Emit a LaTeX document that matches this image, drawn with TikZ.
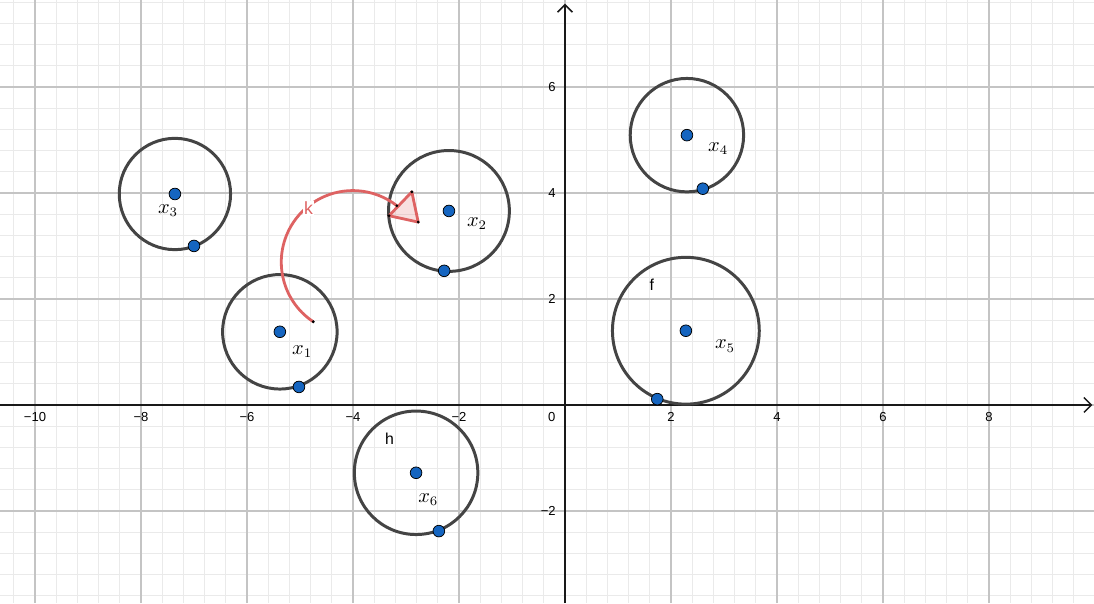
\documentclass[tikz,border=0pt]{standalone}
\usepackage{fontspec}
\newfontfamily\lsans{Liberation Sans}
\usetikzlibrary{arrows.meta}
\definecolor{kred}{RGB}{222,98,98}
\definecolor{ptblue}{RGB}{21,101,192}
\definecolor{ringgray}{RGB}{68,68,68}
\definecolor{majgrid}{RGB}{196,196,196}
\definecolor{mingrid}{RGB}{234,234,234}
\tikzset{
  minorgrid/.style={draw=mingrid, line width=0.5pt},
  majorgrid/.style={draw=majgrid, line width=0.75pt},
  axisline/.style={draw=black!90, line width=0.8pt, -{Straight Barb[length=4pt,width=8pt]}},
  ticklbl/.style={font=\lsans\fontsize{7}{8}\selectfont, inner sep=0pt},
  ring/.style={circle, draw=ringgray, line width=1.6pt, inner sep=0pt},
  pt/.style={circle, fill=ptblue, draw=black, line width=0.4pt, minimum size=0.22cm, inner sep=0pt},
  vdot/.style={circle, fill=black, minimum size=0.06cm, inner sep=0pt},
  mathlbl/.style={inner sep=0pt, font=\fontsize{10.5}{12}\selectfont},
  namelbl/.style={inner sep=0pt, font=\lsans\fontsize{8.5}{10}\selectfont},
  karc/.style={draw=kred, line width=1.5pt},
}
\begin{document}
\begin{tikzpicture}
\useasboundingbox (-10.66,-3.74) rectangle (9.98,7.64);
\fill[white] (-10.66,-3.74) rectangle (9.98,7.64);
% grid
\draw[minorgrid] (-10.66,-3.74) grid[step=0.4] (9.98,7.64);
\draw[majorgrid] (-10.66,-3.74) grid[step=2] (9.98,7.64);
% axes
\coordinate (xl) at (-10.66,0);
\coordinate (xr) at (9.95,0);
\coordinate (yb) at (0,-3.74);
\coordinate (yt) at (0,7.57);
\draw[axisline] (xl) -- (xr);
\draw[axisline] (yb) -- (yt);
% tick labels
\foreach \v/\t in {-10/−10,-8/−8,-6/−6,-4/−4,-2/−2,2/2,4/4,6/6,8/8}
  \node[ticklbl] (tx\v) at (\v,-0.23) {\t};
\node[ticklbl] (t0) at (-0.25,-0.23) {0};
\foreach \v/\t in {6/6,4/4,2/2}
  \node[ticklbl, anchor=east] (ty\v) at (-0.17,\v) {\t};
\node[ticklbl, anchor=east] (tym2) at (-0.17,-2) {−2};
% circles
\node[ring, minimum size=2.16cm] (c1) at (-5.38,1.38) {};
\node[ring, minimum size=2.28cm] (c2) at (-2.19,3.66) {};
\node[ring, minimum size=2.10cm] (c3) at (-7.36,3.98) {};
\node[ring, minimum size=2.14cm] (c4) at (2.30,5.09) {};
\node[ring, minimum size=2.77cm] (c5) at (2.28,1.40) {};
\node[ring, minimum size=2.33cm] (c6) at (-2.81,-1.28) {};
% red arc k with arrowhead
\coordinate (ks) at (-4.75,1.57);
\draw[karc] (ks) arc[start angle=236.4, end angle=52, radius=1.35] coordinate (ke);
\coordinate (ta) at (-2.89,4.02);
\coordinate (tb) at (-2.77,3.45);
\coordinate (tc) at (-3.32,3.57);
\filldraw[karc, fill=kred, fill opacity=0.2, line join=round] (ta) -- (tb) -- (tc) -- cycle;
\foreach \c in {ks,ke,ta,tb,tc} \node[vdot] at (\c) {};
\node[namelbl, text=kred, fill=white, inner sep=0.6pt, font=\lsans\fontsize{9.5}{11}\selectfont] (klbl) at (-4.84,3.71) {k};
% centers and points
\node[pt] (p1) at (-5.38,1.38) {};
\node[pt] (q1) at (-5.02,0.34) {};
\node[pt] (p2) at (-2.19,3.66) {};
\node[pt] (q2) at (-2.28,2.53) {};
\node[pt] (p3) at (-7.36,3.98) {};
\node[pt] (q3) at (-7.00,3.00) {};
\node[pt] (p4) at (2.30,5.09) {};
\node[pt] (q4) at (2.60,4.08) {};
\node[pt] (p5) at (2.28,1.40) {};
\node[pt] (q5) at (1.74,0.11) {};
\node[pt] (p6) at (-2.81,-1.28) {};
\node[pt] (q6) at (-2.38,-2.38) {};
% labels
\node[mathlbl] (l1) at (-4.96,1.0) {$x_1$};
\node[mathlbl] (l2) at (-1.66,3.43) {$x_2$};
\node[mathlbl] (l3) at (-7.49,3.66) {$x_3$};
\node[mathlbl] (l4) at (2.89,4.83) {$x_4$};
\node[mathlbl] (l5) at (3.02,1.11) {$x_5$};
\node[mathlbl] (l6) at (-2.58,-1.79) {$x_6$};
\node[namelbl] (lf) at (1.64,2.26) {f};
\node[namelbl] (lh) at (-3.31,-0.63) {h};
\end{tikzpicture}
\end{document}
